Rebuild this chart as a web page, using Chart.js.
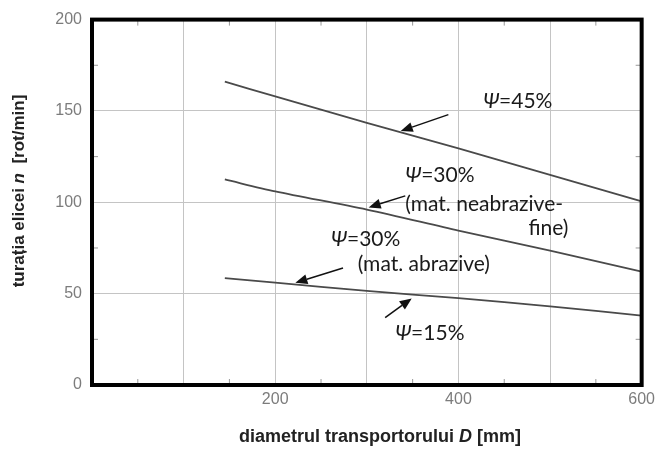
<!DOCTYPE html>
<html>
<head>
<meta charset="utf-8">
<script src="https://cdn.jsdelivr.net/npm/chart.js@4.4.1/dist/chart.umd.min.js"></script>
<style>
  html, body { margin: 0; padding: 0; background: #fff; }
  #wrap { width: 660px; height: 450px; }
</style>
</head>
<body>
<div id="wrap"><canvas id="mycanvas" width="660" height="450"></canvas></div>
<script>
// diameter D [mm] and speed n [rot/min]
var diam = [145, 200, 300, 400, 500, 600];
var psi45 = [166, 158, 143.5, 129.5, 115, 100.5];
var psi30_fine = [112.5, 106, 96, 84.5, 73.5, 62];
var psi30_abr = [58.5, 56, 51.5, 47.5, 43, 38];

var xTicks = [200, 400, 600];
var yTicks = [0, 50, 100, 150, 200];

// annotation labels, anchored in data units
var notes = [
  { lines: [["Ψ", "=45%"]], x: 427, y: 155.5, align: "left" },
  { lines: [["Ψ", "=30%"]], x: 342, y: 115, align: "left" },
  { lines: [["", "(mat. neabrazive-"]], x: 342, y: 99.2, align: "left" },
  { lines: [["", "fine)"]], x: 520, y: 85.6, align: "right" },
  { lines: [["Ψ", "=30%"]], x: 261, y: 79.7, align: "left" },
  { lines: [["", "(mat. abrazive)"]], x: 290, y: 66, align: "left" },
  { lines: [["Ψ", "=15%"]], x: 331, y: 28.2, align: "left" }
];
var arrows = [
  { from: [389, 148], to: [337, 139] },
  { from: [342, 103.5], to: [302, 97.2] },
  { from: [274, 64], to: [222, 56] },
  { from: [320, 36.9], to: [349, 47.4] }
];

function pts(ys) {
  var out = [];
  for (var i in diam) out.push({ x: diam[i], y: ys[i] });
  return out;
}

function lineSet(label, ys) {
  return {
    label: label,
    data: pts(ys),
    borderColor: "#4a4a4a",
    borderWidth: 1.8,
    pointRadius: 0,
    fill: false,
    tension: 0.3
  };
}

var decor = {
  id: "decor",
  afterDatasetsDraw: function (chart) {
    var ctx = chart.ctx, a = chart.chartArea;
    var xs = chart.scales.x, ys = chart.scales.y;
    ctx.save();

    // small minor ticks inside frame
    ctx.strokeStyle = "#999";
    ctx.lineWidth = 1;
    for (var v = 25; v < 200; v += 50) {
      var py = ys.getPixelForValue(v);
      ctx.beginPath();
      ctx.moveTo(a.left, py); ctx.lineTo(a.left + 6, py);
      ctx.moveTo(a.right, py); ctx.lineTo(a.right - 6, py);
      ctx.stroke();
    }
    for (var u = 50; u < 600; u += 100) {
      var px = xs.getPixelForValue(u);
      ctx.beginPath();
      ctx.moveTo(px, a.top); ctx.lineTo(px, a.top + 6);
      ctx.moveTo(px, a.bottom); ctx.lineTo(px, a.bottom - 6);
      ctx.stroke();
    }

    // thick frame
    ctx.strokeStyle = "#000";
    ctx.lineWidth = 4;
    ctx.strokeRect(a.left, a.top, a.right - a.left, a.bottom - a.top);

    // arrows
    ctx.fillStyle = "#111";
    ctx.strokeStyle = "#111";
    ctx.lineWidth = 1.5;
    arrows.forEach(function (ar) {
      var x1 = xs.getPixelForValue(ar.from[0]), y1 = ys.getPixelForValue(ar.from[1]);
      var x2 = xs.getPixelForValue(ar.to[0]), y2 = ys.getPixelForValue(ar.to[1]);
      var ang = Math.atan2(y2 - y1, x2 - x1);
      var L = 12, W = 5;
      ctx.beginPath();
      ctx.moveTo(x1, y1);
      ctx.lineTo(x2 - L * Math.cos(ang), y2 - L * Math.sin(ang));
      ctx.stroke();
      ctx.beginPath();
      ctx.moveTo(x2, y2);
      ctx.lineTo(x2 - L * Math.cos(ang) + W * Math.sin(ang), y2 - L * Math.sin(ang) - W * Math.cos(ang));
      ctx.lineTo(x2 - L * Math.cos(ang) - W * Math.sin(ang), y2 - L * Math.sin(ang) + W * Math.cos(ang));
      ctx.closePath();
      ctx.fill();
    });

    // labels
    ctx.fillStyle = "#1a1a1a";
    ctx.textBaseline = "middle";
    ctx.textAlign = "left";
    var fn = '21px Lato', fi = 'italic 21px Lato';
    notes.forEach(function (n) {
      var parts = n.lines[0];
      ctx.font = fi; var w1 = ctx.measureText(parts[0]).width;
      ctx.font = fn; var w2 = ctx.measureText(parts[1]).width;
      var px = xs.getPixelForValue(n.x), py = ys.getPixelForValue(n.y);
      if (n.align === "right") px -= (w1 + w2);
      ctx.font = fi; ctx.fillText(parts[0], px, py);
      ctx.font = fn; ctx.fillText(parts[1], px + w1, py);
    });

    // axis titles (condensed to the width of the original lettering)
    ctx.fillStyle = "#222";
    function mixed(segs, cx, cy, target) {
      var total = 0;
      segs.forEach(function (s) { ctx.font = s[1]; total += ctx.measureText(s[0]).width; });
      var k = Math.min(1, target / total);
      ctx.save();
      ctx.translate(cx, cy);
      ctx.scale(k, 1);
      var x = -total / 2;
      segs.forEach(function (s) { ctx.font = s[1]; ctx.fillText(s[0], x, 0); x += ctx.measureText(s[0]).width; });
      ctx.restore();
    }
    var tb = 'bold 18px "Liberation Sans"', ti = 'italic bold 18px "Liberation Sans"';
    mixed([["diametrul transportorului ", tb], ["D", ti], [" [mm]", tb]], 380, 437, 296);
    ctx.save();
    ctx.translate(19, 191);
    ctx.rotate(-Math.PI / 2);
    var yb = 'bold 17px "Liberation Sans"', yi = 'italic bold 17px "Liberation Sans"';
    mixed([["turația elicei ", yb], ["n", yi], ["  [rot/min]", yb]], 0, 0, 213);
    ctx.restore();

    ctx.restore();
  }
};

var ctx = document.getElementById("mycanvas");
var LineGraph = new Chart(ctx, {
  type: "line",
  data: {
    datasets: [
      lineSet("Ψ=45%", psi45),
      lineSet("Ψ=30% (mat. neabrazive-fine)", psi30_fine),
      lineSet("Ψ=30% (mat. abrazive) / Ψ=15%", psi30_abr)
    ]
  },
  options: {
    responsive: false,
    animation: false,
    layout: { padding: { left: 0, right: 13, top: 16, bottom: 0 } },
    plugins: { legend: { display: false }, tooltip: { enabled: false } },
    scales: {
      x: {
        type: "linear",
        min: 0, max: 600,
        afterFit: function (s) { s.height = 65; },
        grid: { color: "#c4c4c4", lineWidth: 1, drawTicks: false },
        border: { display: false },
        ticks: {
          stepSize: 100,
          padding: 5,
          color: "#7c7c7c",
          font: { family: "Liberation Sans", size: 16 },
          maxRotation: 0,
          autoSkip: false,
          callback: function (v) { return xTicks.indexOf(v) >= 0 ? String(v) : ""; }
        }
      },
      y: {
        min: 0, max: 200,
        afterFit: function (s) { s.width = 92; },
        grid: { color: "#c4c4c4", lineWidth: 1, drawTicks: false },
        border: { display: false },
        ticks: {
          stepSize: 50,
          padding: 10,
          color: "#7c7c7c",
          font: { family: "Liberation Sans", size: 16 },
          callback: function (v) { return yTicks.indexOf(v) >= 0 ? String(v) : ""; }
        }
      }
    }
  },
  plugins: [decor]
});
</script>
</body>
</html>
